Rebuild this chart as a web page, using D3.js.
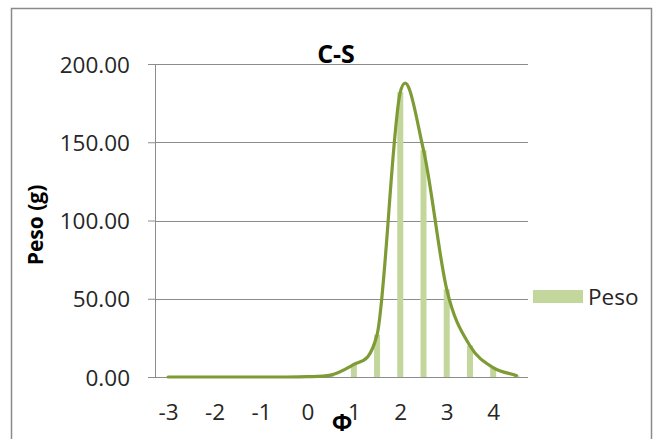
<!DOCTYPE html>
<html>
<head>
<meta charset="utf-8">
<script src="https://cdn.jsdelivr.net/npm/d3@7"></script>
<style>
  html, body { margin: 0; padding: 0; background: #ffffff; }
  svg { display: block; }
  text { font-family: "Open Sans", "Noto Sans", sans-serif; fill: #262626; }
</style>
</head>
<body>
<svg id="chart" width="658" height="439"></svg>
<script>
// Grain size class (phi) and retained weight (g)
const phi  = [-3, -2.5, -2, -1.5, -1, -0.5, 0, 0.5, 1, 1.5, 2, 2.5, 3, 3.5, 4, 4.5];
const peso = [0, 0, 0, 0, 0, 0, 0.2, 1.2, 8, 27, 182, 145, 56, 20, 6, 1];

const yTicks = [0, 50, 100, 150, 200];
const xTicks = [-3, -2, -1, 0, 1, 2, 3, 4];

const chartTitle = "C-S";
const yTitle = "Peso (g)";
const xTitle = "\u03A6";
const seriesName = "Peso";

const svg = d3.select("#chart");
const plot = { left: 156, right: 528, top: 64, bottom: 377 };

const barColor = "#c3d69b";
const lineColor = "#7e9b36";
const gridColor = "#8c8c8c";

// outer chart frame
svg.append("rect")
  .attr("x", 11.5).attr("y", 8.5)
  .attr("width", 640).attr("height", 450)
  .attr("fill", "#ffffff")
  .attr("stroke", "#8a8a8a").attr("stroke-width", 1.5);

const x = d3.scaleLinear().domain([-3.26, 4.75]).range([plot.left, plot.right]);
const y = d3.scaleLinear().domain([0, 200]).range([plot.bottom, plot.top]);

// y axis with ticks and labels
const yAxis = d3.axisLeft(y)
  .tickValues(yTicks)
  .tickSize(8)
  .tickFormat(d3.format(".2f"));

const gy = svg.append("g")
  .attr("transform", `translate(${plot.left},0)`)
  .call(yAxis);
gy.select(".domain").attr("stroke", gridColor).attr("d", `M-0.5,${plot.top}V${plot.bottom}`);
gy.selectAll(".tick line").attr("stroke", gridColor);
gy.selectAll(".tick text")
  .attr("x", -26)
  .attr("dy", "0.36em")
  .style("font-size", "22.5px")
  .style("fill", "#262626");

// horizontal gridlines
svg.append("g")
  .selectAll("line")
  .data(yTicks)
  .join("line")
  .attr("x1", plot.left).attr("x2", plot.right)
  .attr("y1", d => Math.round(y(d)) + 0.5).attr("y2", d => Math.round(y(d)) + 0.5)
  .attr("stroke", gridColor).attr("stroke-width", 1);

// x axis labels (no tick marks)
const xAxis = d3.axisBottom(x).tickValues(xTicks).tickSize(0).tickFormat(d3.format("d"));
const gx = svg.append("g")
  .attr("transform", `translate(0,${plot.bottom})`)
  .call(xAxis);
gx.select(".domain").remove();
gx.selectAll(".tick text")
  .attr("y", 43)
  .attr("dy", 0)
  .style("font-size", "22.5px")
  .style("fill", "#262626")
  .text(d => d < 0 ? "-" + Math.abs(d) : d);

// bars
const barW = 6;
svg.append("g")
  .selectAll("rect")
  .data(phi.map((p, i) => ({ p, v: peso[i] })))
  .join("rect")
  .attr("x", d => x(d.p) - barW / 2)
  .attr("y", d => y(d.v))
  .attr("width", barW)
  .attr("height", d => y(0) - y(d.v))
  .attr("fill", barColor);

// Smoothed line: Catmull-Rom tangents, limited on monotone stretches so the
// rising and falling flanks do not wiggle; the peak keeps its natural overshoot.
function smoothPath(xs, ys) {
  const n = xs.length;
  const m = xs.map((_, i) => {
    const a = Math.max(i - 1, 0), b = Math.min(i + 1, n - 1);
    return (ys[b] - ys[a]) / (xs[b] - xs[a]);
  });
  for (let k = 0; k < n - 1; k++) {
    const delta = (ys[k + 1] - ys[k]) / (xs[k + 1] - xs[k]);
    if (delta === 0) continue;
    const a = m[k] / delta, b = m[k + 1] / delta;
    if (a >= 0 && b >= 0 && a * a + b * b > 9) {
      const tau = 3 / Math.sqrt(a * a + b * b);
      m[k] = tau * a * delta;
      m[k + 1] = tau * b * delta;
    }
  }
  const p = d3.path();
  p.moveTo(x(xs[0]), y(ys[0]));
  for (let k = 0; k < n - 1; k++) {
    const h = (xs[k + 1] - xs[k]) / 3;
    p.bezierCurveTo(
      x(xs[k] + h), y(ys[k] + m[k] * h),
      x(xs[k + 1] - h), y(ys[k + 1] - m[k + 1] * h),
      x(xs[k + 1]), y(ys[k + 1]));
  }
  return p.toString();
}

svg.append("path")
  .attr("d", smoothPath(phi, peso))
  .attr("fill", "none")
  .attr("stroke", lineColor)
  .attr("stroke-width", 3.2)
  .attr("stroke-linecap", "round")
  .attr("stroke-linejoin", "round");

// titles
svg.append("text")
  .attr("x", 336).attr("y", 63)
  .attr("text-anchor", "middle")
  .style("font-size", "25px").style("font-weight", "bold")
  .style("fill", "#000")
  .text(chartTitle);

svg.append("text")
  .attr("transform", "translate(43,225) rotate(-90)")
  .attr("text-anchor", "middle")
  .style("font-size", "21px").style("font-weight", "bold")
  .style("fill", "#000")
  .text(yTitle);

svg.append("text")
  .attr("x", 342).attr("y", 431)
  .attr("text-anchor", "middle")
  .style("font-size", "24px").style("font-weight", "bold")
  .style("fill", "#000")
  .text(xTitle);

// legend
svg.append("rect")
  .attr("x", 533).attr("y", 290)
  .attr("width", 50).attr("height", 13)
  .attr("fill", barColor);
svg.append("text")
  .attr("x", 588).attr("y", 305)
  .style("font-size", "22.5px")
  .text(seriesName);
</script>
</body>
</html>
